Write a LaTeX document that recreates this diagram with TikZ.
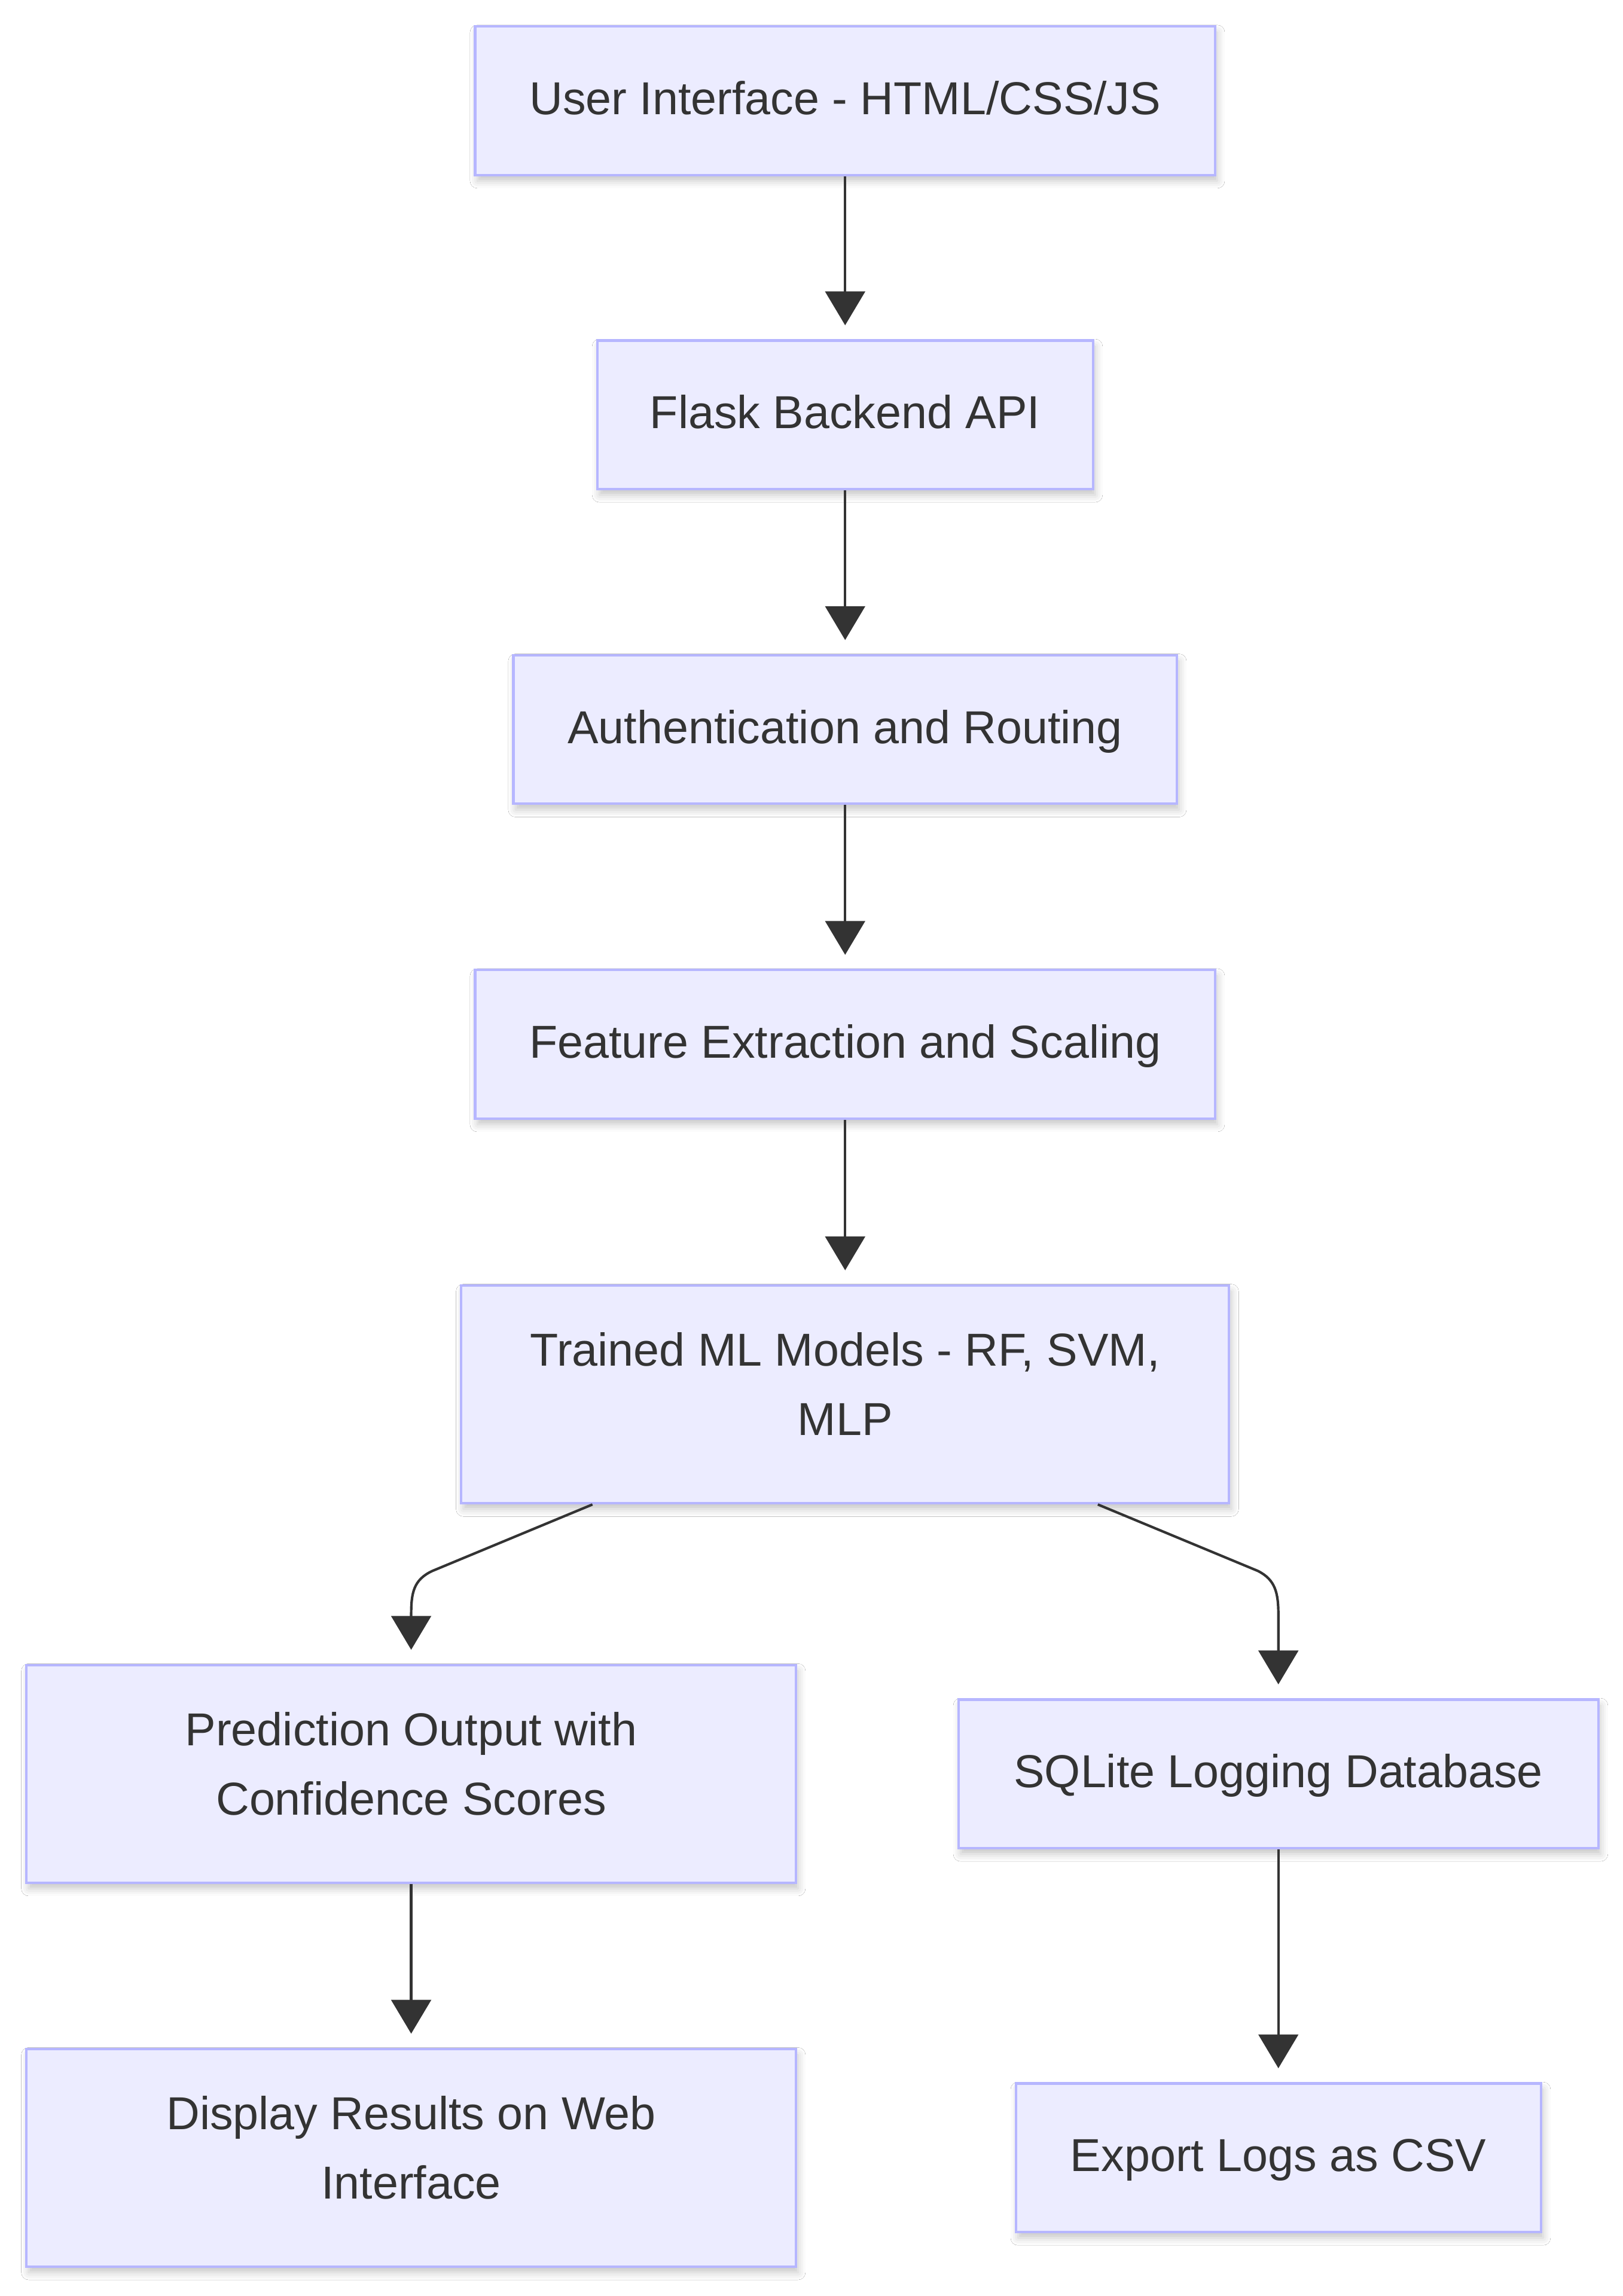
\documentclass[tikz,border=0pt]{standalone}
\usepackage{fontspec}
\setmainfont{Liberation Sans}
\usetikzlibrary{arrows.meta,calc,shadows.blur}
\definecolor{boxfill}{RGB}{236,236,255}
\definecolor{boxline}{RGB}{182,182,255}
\definecolor{inkgray}{RGB}{51,51,51}

\begin{document}
\begin{tikzpicture}[x=1pt,y=-1pt,
	box/.style={draw=boxline,fill=boxfill,line width=1.7pt,inner sep=0pt,align=center,
		text=inkgray,font=\fontsize{31.4}{47}\selectfont,
		execute at begin node=\strut,execute at end node=\strut,
		blur shadow={shadow xshift=1.5pt,shadow yshift=-4pt,shadow blur radius=5pt,shadow opacity=22}},
	flow/.style={draw=inkgray,line width=1.7pt,-{Triangle[length=23pt,width=27pt]},shorten >=9.5pt}]
\useasboundingbox (0,0) rectangle (1102.9,1561);
\fill[white] (0,0) rectangle (1102.9,1561);
\node[box,minimum width=503pt,minimum height=101pt] (ui) at (574.5,68.5) {User Interface - HTML/CSS/JS};
\node[box,minimum width=337pt,minimum height=101pt] (flask) at (574.5,282) {Flask Backend API};
\node[box,minimum width=451pt,minimum height=101pt] (auth) at (574.5,496) {Authentication and Routing};
\node[box,minimum width=503pt,minimum height=101pt] (feat) at (574.5,710) {Feature Extraction and Scaling};
\node[box,minimum width=522pt,minimum height=148pt] (models) at (574.5,948) {Trained ML Models - RF, SVM,\\ MLP};
\node[box,minimum width=523pt,minimum height=148pt] (pred) at (279.5,1206) {Prediction Output with\\ Confidence Scores};
\node[box,minimum width=435pt,minimum height=101pt] (sqlite) at (869,1206) {SQLite Logging Database};
\node[box,minimum width=523pt,minimum height=148pt] (display) at (279.5,1467) {Display Results on Web\\ Interface};
\node[box,minimum width=357pt,minimum height=101pt] (export) at (869,1467) {Export Logs as CSV};
\foreach \a/\b in {ui/flask,flask/auth,auth/feat,feat/models,pred/display,sqlite/export}
	\draw[flow] (\a) -- (\b);
\draw[flow] ($(models.south west)!0.172!(models.south east)$) -- (294,1068)
	.. controls (281,1074) and (279.5,1083) .. (279.5,1098) -- (pred);
\draw[flow] ($(models.south west)!0.828!(models.south east)$) -- (855,1068)
	.. controls (867,1074) and (869,1083) .. (869,1098) -- (sqlite);
\end{tikzpicture}
\end{document}
